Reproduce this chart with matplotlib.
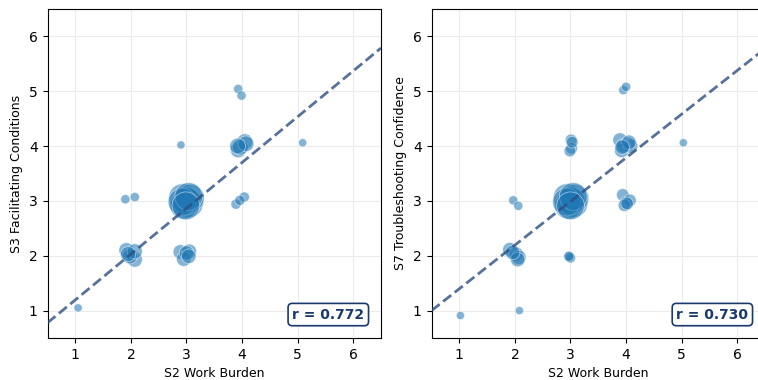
import matplotlib
matplotlib.use('Agg')
import matplotlib.pyplot as plt
import numpy as np

# Jittered response positions (Likert 1-6) and the number of respondents
# sharing that integer cell, used for the marker size.
s2_left = [1.05,
           1.92, 2.07, 1.98, 2.07, 1.95,
           1.90, 2.07,
           2.89, 3.05, 2.95, 3.00, 3.04,
           2.93, 3.05, 2.95, 3.07, 3.00, 2.92, 3.04, 2.99,
           2.90,
           3.89, 4.04, 3.96,
           3.93, 4.05, 3.97, 4.07, 3.92,
           3.93, 3.99,
           5.09]
s3 = [1.05,
      2.10, 1.93, 1.99, 2.08, 2.03,
      3.03, 3.07,
      2.07, 2.08, 1.94, 2.05, 1.99,
      3.06, 2.95, 2.92, 3.05, 3.00, 2.98, 3.08, 2.91,
      4.02,
      2.94, 3.07, 3.01,
      3.93, 4.08, 3.98, 4.04, 4.00,
      5.04, 4.92,
      4.06]
n_left = [1,
          10, 10, 10, 10, 10,
          2, 2,
          9, 9, 9, 9, 9,
          40, 40, 40, 40, 40, 40, 40, 40,
          1,
          3, 3, 3,
          11, 11, 11, 11, 11,
          2, 2,
          1]

s2_right = [1.02,
            2.08,
            1.91, 2.02, 2.07, 2.05, 1.96,
            1.97, 2.06,
            2.98, 3.00, 2.97,
            2.94, 3.06, 2.96, 3.08, 3.01, 2.93, 3.05, 3.00,
            3.01, 3.02, 2.99, 3.03,
            3.94, 4.00, 4.07, 3.97, 4.02,
            3.89, 4.03, 3.92, 4.08, 3.95, 4.05, 3.93,
            3.95, 4.00,
            5.03]
s7 = [0.91,
      1.00,
      2.11, 2.03, 1.97, 1.93, 2.06,
      3.01, 2.91,
      1.98, 1.96, 1.99,
      3.06, 2.95, 2.92, 3.05, 3.00, 2.98, 3.08, 2.91,
      4.11, 3.96, 3.91, 4.07,
      3.11, 2.97, 3.01, 2.92, 2.95,
      4.11, 4.03, 3.92, 4.00, 4.00, 4.07, 3.98,
      5.02, 5.08,
      4.06]
n_right = [1,
           1,
           9, 9, 9, 9, 9,
           2, 2,
           3, 3, 3,
           41, 41, 41, 41, 41, 41, 41, 41,
           5, 5, 5, 5,
           6, 6, 6, 6, 6,
           9, 9, 9, 9, 9, 9, 9,
           2, 2,
           1]

# fitted lines: (intercept, slope) and Pearson r
fit_left = (0.36, 0.835)
fit_right = (0.602, 0.796)
r_left = 0.772
r_right = 0.730

ticks = [1, 2, 3, 4, 5, 6]


def size_scale(n, nmax, smin=35, smax=400):
    n = np.asarray(n, dtype=float)
    return smin + (n - 1) / (nmax - 1) * (smax - smin)


def panel(ax, x, y, n, fit, r, ylabel):
    ax.grid(True, color='#ebebeb', linewidth=0.8, zorder=0)
    ax.scatter(x, y, s=size_scale(n, max(n)), color='#1f77b4', alpha=0.55,
               edgecolors='white', linewidths=0.6, zorder=2)
    xs = np.array([0.5, 6.5])
    ax.plot(xs, fit[0] + fit[1] * xs, '--', color='#2c4f82', alpha=0.8,
            linewidth=2, zorder=3)
    ax.text(0.95, 0.05, 'r = %.3f' % r, transform=ax.transAxes,
            ha='right', va='bottom', fontsize=10, fontweight='bold',
            color='#1a3a6e', zorder=4,
            bbox=dict(boxstyle='round,pad=0.3', facecolor='white',
                      edgecolor='#1a3a6e', linewidth=1.2))
    ax.set_xlim(0.5, 6.5)
    ax.set_ylim(0.5, 6.5)
    ax.set_xticks(ticks)
    ax.set_yticks(ticks)
    ax.tick_params(labelsize=10)
    ax.set_xlabel('S2 Work Burden', fontsize=9)
    ax.set_ylabel(ylabel, fontsize=9)
    ax.set_axisbelow(True)


fig = plt.figure(figsize=(7.58, 3.8), dpi=100)
ax1 = fig.add_axes([0.0627, 0.1105, 0.44, 0.866])
ax2 = fig.add_axes([0.5693, 0.1105, 0.44, 0.866])

panel(ax1, s2_left, s3, n_left, fit_left, r_left, 'S3 Facilitating Conditions')
panel(ax2, s2_right, s7, n_right, fit_right, r_right,
      'S7 Troubleshooting Confidence')

fig.savefig('out.png', dpi=100)
